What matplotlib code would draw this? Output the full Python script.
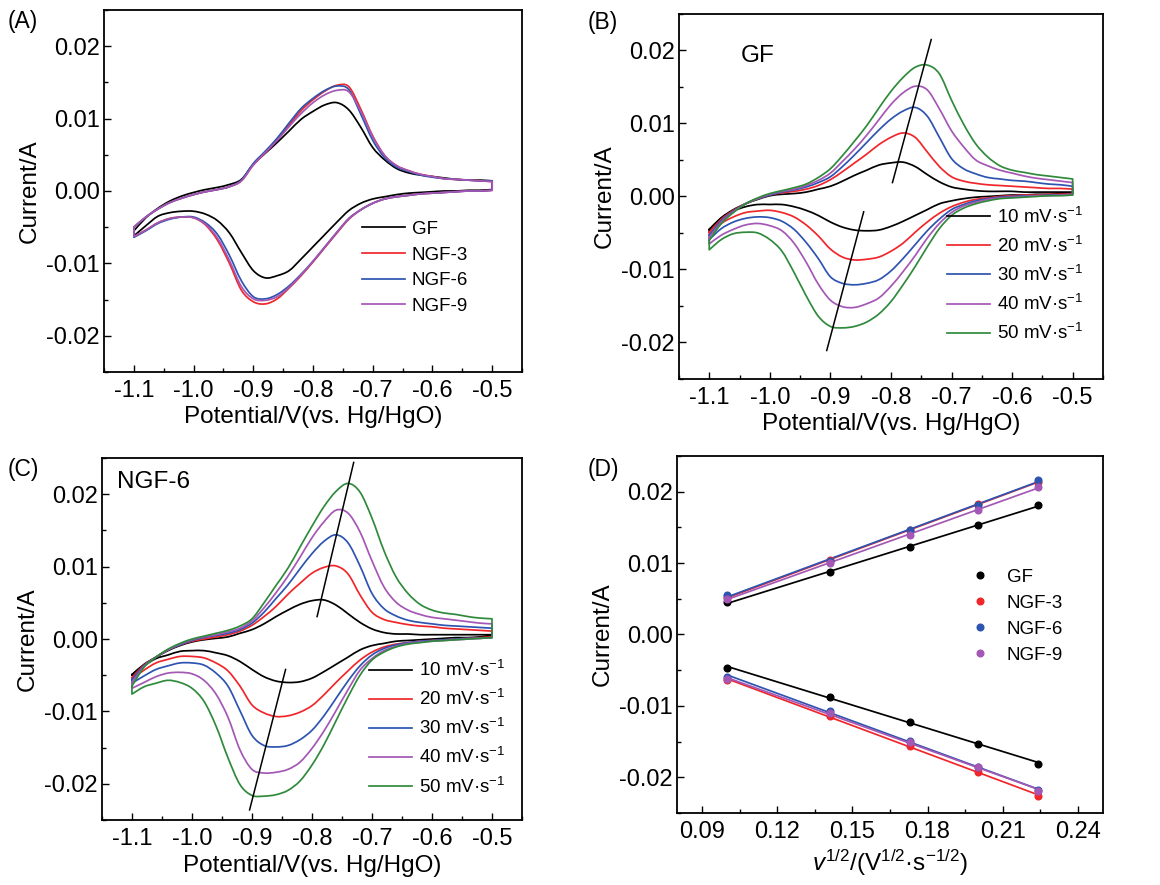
import numpy as np
import matplotlib
matplotlib.use("Agg")
import matplotlib.pyplot as plt
from matplotlib.ticker import MultipleLocator, FormatStrFormatter
from matplotlib.path import Path
from matplotlib.patches import PathPatch

plt.rcParams['font.family'] = ['Liberation Sans', 'DejaVu Sans']
plt.rcParams['mathtext.fontset'] = 'custom'
plt.rcParams['mathtext.rm'] = 'Liberation Sans'
plt.rcParams['mathtext.it'] = 'Liberation Sans:italic'
plt.rcParams['mathtext.default'] = 'regular'
plt.rcParams['axes.unicode_minus'] = False

# ---------------- data ----------------
E_GRID = [-1.10, -1.08, -1.06, -1.04, -1.02, -1.00, -0.98, -0.96, -0.94, -0.92,
          -0.90, -0.88, -0.86, -0.84, -0.82, -0.80, -0.78, -0.76, -0.74, -0.72,
          -0.70, -0.68, -0.66, -0.64, -0.62, -0.60, -0.58, -0.56, -0.54, -0.52, -0.50]

# Panel A (30 mV/s): anodic (forward) and cathodic (reverse) branches, A
A_GF_up = [-0.0055, -0.0037, -0.0024, -0.0014, -0.0007, -0.0002, 0.0002, 0.0005, 0.0009, 0.0016,
           0.0037, 0.0052, 0.0067, 0.0083, 0.0099, 0.0110, 0.0119, 0.0122, 0.0112, 0.0088,
           0.0060, 0.0043, 0.0031, 0.0025, 0.0022, 0.0020, 0.0018, 0.0016, 0.0015, 0.0015, 0.0014]
A_GF_dn = [-0.0062, -0.0048, -0.0035, -0.0030, -0.0028, -0.0028, -0.0032, -0.0041, -0.0058, -0.0085,
           -0.0110, -0.0120, -0.0117, -0.0110, -0.0094, -0.0077, -0.0060, -0.0043, -0.0027, -0.0017,
           -0.0011, -0.0008, -0.0005, -0.0003, -0.0002, -0.0001, 0.0000, 0.0000, 0.0001, 0.0001, 0.0002]
A_N3_up = [-0.0050, -0.0036, -0.0025, -0.0016, -0.0010, -0.0005, -0.0001, 0.0002, 0.0006, 0.0014,
           0.0036, 0.0053, 0.0071, 0.0091, 0.0111, 0.0126, 0.0138, 0.0146, 0.0144, 0.0113,
           0.0076, 0.0049, 0.0035, 0.0028, 0.0023, 0.0020, 0.0017, 0.0016, 0.0015, 0.0014, 0.0013]
A_N3_dn = [-0.0063, -0.0054, -0.0044, -0.0038, -0.0036, -0.0037, -0.0047, -0.0068, -0.0100, -0.0137,
           -0.0153, -0.0156, -0.0149, -0.0134, -0.0117, -0.0098, -0.0078, -0.0058, -0.0039, -0.0026,
           -0.0017, -0.0011, -0.0008, -0.0006, -0.0004, -0.0003, -0.0002, -0.0001, 0.0000, 0.0000, 0.0001]
A_N6_up = [-0.0050, -0.0036, -0.0025, -0.0016, -0.0010, -0.0005, -0.0001, 0.0002, 0.0006, 0.0015,
           0.0038, 0.0055, 0.0073, 0.0094, 0.0114, 0.0128, 0.0139, 0.0145, 0.0140, 0.0106,
           0.0070, 0.0046, 0.0033, 0.0027, 0.0022, 0.0019, 0.0017, 0.0016, 0.0015, 0.0014, 0.0014]
A_N6_dn = [-0.0064, -0.0055, -0.0045, -0.0039, -0.0036, -0.0036, -0.0044, -0.0060, -0.0089, -0.0124,
           -0.0146, -0.0149, -0.0143, -0.0131, -0.0115, -0.0097, -0.0077, -0.0057, -0.0038, -0.0026,
           -0.0017, -0.0011, -0.0008, -0.0006, -0.0004, -0.0003, -0.0002, -0.0001, 0.0000, 0.0000, 0.0001]
A_N9_up = [-0.0050, -0.0036, -0.0025, -0.0016, -0.0010, -0.0005, -0.0001, 0.0002, 0.0006, 0.0014,
           0.0036, 0.0053, 0.0070, 0.0089, 0.0107, 0.0122, 0.0133, 0.0139, 0.0137, 0.0110,
           0.0075, 0.0049, 0.0035, 0.0028, 0.0023, 0.0020, 0.0017, 0.0016, 0.0015, 0.0014, 0.0013]
A_N9_dn = [-0.0063, -0.0054, -0.0044, -0.0038, -0.0036, -0.0037, -0.0046, -0.0065, -0.0096, -0.0132,
           -0.0149, -0.0151, -0.0146, -0.0133, -0.0116, -0.0097, -0.0077, -0.0057, -0.0038, -0.0026,
           -0.0017, -0.0011, -0.0008, -0.0006, -0.0004, -0.0003, -0.0002, -0.0001, 0.0000, 0.0000, 0.0001]

# Panel B (GF at 10-50 mV/s)
B10_up = [-0.0045, -0.0029, -0.0018, -0.0010, -0.0004, 0.0001, 0.0003, 0.0004, 0.0006, 0.0010,
          0.0014, 0.0021, 0.0029, 0.0036, 0.0043, 0.0046, 0.0047, 0.0041, 0.0030, 0.0020,
          0.0013, 0.0010, 0.0008, 0.0007, 0.0007, 0.0007, 0.0006, 0.0006, 0.0006, 0.0006, 0.0006]
B10_dn = [-0.0048, -0.0030, -0.0020, -0.0014, -0.0011, -0.0011, -0.0011, -0.0014, -0.0019, -0.0026,
          -0.0035, -0.0042, -0.0046, -0.0047, -0.0046, -0.0041, -0.0034, -0.0026, -0.0018, -0.0010,
          -0.0006, -0.0003, -0.0001, 0.0000, 0.0001, 0.0002, 0.0002, 0.0003, 0.0003, 0.0004, 0.0005]
B20_up = [-0.0049, -0.0031, -0.0019, -0.0010, -0.0003, 0.0002, 0.0005, 0.0007, 0.0010, 0.0015,
          0.0023, 0.0034, 0.0046, 0.0058, 0.0071, 0.0081, 0.0087, 0.0081, 0.0061, 0.0041,
          0.0027, 0.0021, 0.0018, 0.0016, 0.0015, 0.0014, 0.0013, 0.0012, 0.0011, 0.0011, 0.0010]
B20_dn = [-0.0053, -0.0037, -0.0028, -0.0022, -0.0020, -0.0019, -0.0022, -0.0028, -0.0039, -0.0054,
          -0.0072, -0.0083, -0.0087, -0.0086, -0.0083, -0.0075, -0.0064, -0.0049, -0.0035, -0.0023,
          -0.0014, -0.0008, -0.0004, -0.0002, 0.0000, 0.0001, 0.0002, 0.0002, 0.0003, 0.0003, 0.0004]
B30_up = [-0.0053, -0.0033, -0.0020, -0.0010, -0.0003, 0.0002, 0.0006, 0.0009, 0.0013, 0.0019,
          0.0027, 0.0041, 0.0057, 0.0074, 0.0091, 0.0106, 0.0117, 0.0122, 0.0110, 0.0081,
          0.0052, 0.0038, 0.0031, 0.0026, 0.0024, 0.0022, 0.0021, 0.0019, 0.0017, 0.0016, 0.0014]
B30_dn = [-0.0059, -0.0044, -0.0035, -0.0030, -0.0028, -0.0029, -0.0034, -0.0045, -0.0063, -0.0085,
          -0.0110, -0.0119, -0.0121, -0.0119, -0.0114, -0.0102, -0.0085, -0.0066, -0.0047, -0.0031,
          -0.0018, -0.0011, -0.0006, -0.0003, -0.0001, 0.0000, 0.0001, 0.0001, 0.0002, 0.0002, 0.0003]
B40_up = [-0.0056, -0.0035, -0.0021, -0.0010, -0.0003, 0.0003, 0.0007, 0.0010, 0.0015, 0.0022,
          0.0032, 0.0048, 0.0065, 0.0084, 0.0105, 0.0126, 0.0142, 0.0151, 0.0146, 0.0120,
          0.0090, 0.0068, 0.0050, 0.0042, 0.0036, 0.0032, 0.0028, 0.0025, 0.0023, 0.0021, 0.0019]
B40_dn = [-0.0065, -0.0053, -0.0045, -0.0039, -0.0037, -0.0040, -0.0047, -0.0064, -0.0090, -0.0120,
          -0.0142, -0.0151, -0.0152, -0.0147, -0.0139, -0.0123, -0.0103, -0.0081, -0.0057, -0.0037,
          -0.0022, -0.0013, -0.0008, -0.0004, -0.0002, -0.0001, 0.0000, 0.0001, 0.0001, 0.0002, 0.0002]
B50_up = [-0.0060, -0.0037, -0.0022, -0.0010, -0.0002, 0.0004, 0.0008, 0.0012, 0.0017, 0.0026,
          0.0038, 0.0056, 0.0076, 0.0097, 0.0121, 0.0144, 0.0163, 0.0177, 0.0180, 0.0168,
          0.0132, 0.0099, 0.0072, 0.0054, 0.0042, 0.0036, 0.0033, 0.0030, 0.0028, 0.0026, 0.0024]
B50_dn = [-0.0073, -0.0059, -0.0051, -0.0049, -0.0050, -0.0059, -0.0075, -0.0104, -0.0136, -0.0164,
          -0.0178, -0.0180, -0.0178, -0.0172, -0.0161, -0.0144, -0.0121, -0.0096, -0.0069, -0.0044,
          -0.0026, -0.0016, -0.0010, -0.0006, -0.0003, -0.0002, -0.0001, 0.0000, 0.0001, 0.0001, 0.0002]

# Panel C (NGF-6 at 10-50 mV/s)
C10_up = [-0.0049, -0.0035, -0.0025, -0.0016, -0.0009, -0.0004, -0.0001, 0.0001, 0.0003, 0.0008,
          0.0013, 0.0021, 0.0031, 0.0040, 0.0048, 0.0053, 0.0054, 0.0047, 0.0035, 0.0023,
          0.0014, 0.0009, 0.0007, 0.0007, 0.0006, 0.0006, 0.0006, 0.0006, 0.0006, 0.0006, 0.0006]
C10_dn = [-0.0050, -0.0037, -0.0027, -0.0022, -0.0017, -0.0016, -0.0016, -0.0019, -0.0023, -0.0031,
          -0.0042, -0.0052, -0.0058, -0.0060, -0.0059, -0.0054, -0.0045, -0.0035, -0.0025, -0.0015,
          -0.0009, -0.0006, -0.0003, -0.0002, -0.0001, 0.0000, 0.0001, 0.0002, 0.0002, 0.0003, 0.0004]
C20_up = [-0.0053, -0.0036, -0.0025, -0.0015, -0.0008, -0.0003, 0.0000, 0.0003, 0.0006, 0.0011,
          0.0019, 0.0031, 0.0045, 0.0062, 0.0077, 0.0091, 0.0099, 0.0101, 0.0090, 0.0061,
          0.0037, 0.0027, 0.0023, 0.0020, 0.0018, 0.0017, 0.0015, 0.0014, 0.0013, 0.0012, 0.0011]
C20_dn = [-0.0055, -0.0043, -0.0033, -0.0028, -0.0024, -0.0024, -0.0026, -0.0033, -0.0044, -0.0065,
          -0.0091, -0.0102, -0.0107, -0.0106, -0.0101, -0.0092, -0.0077, -0.0060, -0.0044, -0.0029,
          -0.0018, -0.0011, -0.0007, -0.0005, -0.0003, -0.0002, -0.0001, 0.0000, 0.0001, 0.0002, 0.0003]
C30_up = [-0.0056, -0.0037, -0.0025, -0.0015, -0.0008, -0.0002, 0.0002, 0.0005, 0.0008, 0.0013,
          0.0022, 0.0037, 0.0056, 0.0075, 0.0097, 0.0118, 0.0135, 0.0144, 0.0133, 0.0101,
          0.0063, 0.0042, 0.0032, 0.0026, 0.0023, 0.0021, 0.0019, 0.0018, 0.0017, 0.0016, 0.0015]
C30_dn = [-0.0061, -0.0051, -0.0042, -0.0037, -0.0033, -0.0033, -0.0036, -0.0047, -0.0065, -0.0099,
          -0.0133, -0.0147, -0.0149, -0.0147, -0.0139, -0.0126, -0.0106, -0.0082, -0.0058, -0.0037,
          -0.0022, -0.0013, -0.0008, -0.0005, -0.0003, -0.0002, -0.0001, 0.0000, 0.0001, 0.0001, 0.0002]
C40_up = [-0.0060, -0.0038, -0.0025, -0.0015, -0.0007, -0.0001, 0.0003, 0.0006, 0.0010, 0.0015,
          0.0025, 0.0043, 0.0064, 0.0087, 0.0113, 0.0140, 0.0162, 0.0178, 0.0174, 0.0148,
          0.0108, 0.0072, 0.0051, 0.0040, 0.0034, 0.0030, 0.0028, 0.0026, 0.0024, 0.0022, 0.0021]
C40_dn = [-0.0068, -0.0060, -0.0052, -0.0047, -0.0046, -0.0048, -0.0057, -0.0076, -0.0108, -0.0153,
          -0.0180, -0.0185, -0.0184, -0.0180, -0.0170, -0.0151, -0.0127, -0.0099, -0.0070, -0.0043,
          -0.0027, -0.0016, -0.0010, -0.0006, -0.0004, -0.0003, -0.0002, -0.0001, 0.0000, 0.0001, 0.0002]
C50_up = [-0.0065, -0.0039, -0.0025, -0.0014, -0.0006, 0.0000, 0.0004, 0.0008, 0.0012, 0.0018,
          0.0028, 0.0050, 0.0074, 0.0098, 0.0127, 0.0156, 0.0183, 0.0204, 0.0215, 0.0203,
          0.0167, 0.0122, 0.0086, 0.0063, 0.0048, 0.0040, 0.0036, 0.0034, 0.0031, 0.0029, 0.0028]
C50_dn = [-0.0076, -0.0066, -0.0061, -0.0057, -0.0060, -0.0068, -0.0086, -0.0120, -0.0164, -0.0201,
          -0.0216, -0.0217, -0.0215, -0.0209, -0.0196, -0.0174, -0.0146, -0.0113, -0.0080, -0.0050,
          -0.0029, -0.0018, -0.0011, -0.0007, -0.0005, -0.0003, -0.0002, -0.0001, 0.0000, 0.0001, 0.0002]

# Peak-shift guide lines (potential, current)
B_GUIDE_UP_E = [-0.7975, -0.7335]
B_GUIDE_UP_I = [0.0019, 0.0215]
B_GUIDE_DN_E = [-0.845, -0.906]
B_GUIDE_DN_I = [-0.0021, -0.0211]
C_GUIDE_UP_E = [-0.7915, -0.7305]
C_GUIDE_UP_I = [0.0031, 0.0244]
C_GUIDE_DN_E = [-0.844, -0.904]
C_GUIDE_DN_I = [-0.0042, -0.0236]

# Panel D: peak currents vs square root of scan rate
SQRT_V = [0.100, 0.141, 0.173, 0.200, 0.224]
D_GF_pa = [0.0045, 0.0087, 0.0122, 0.0153, 0.0181]
D_GF_pc = [-0.0047, -0.0087, -0.0122, -0.0153, -0.0181]
D_N3_pa = [0.0052, 0.0104, 0.0146, 0.0183, 0.0213]
D_N3_pc = [-0.0064, -0.0114, -0.0156, -0.0193, -0.0226]
D_N6_pa = [0.0055, 0.0103, 0.0146, 0.0182, 0.0216]
D_N6_pc = [-0.0059, -0.0107, -0.0149, -0.0186, -0.0218]
D_N9_pa = [0.0050, 0.0100, 0.0139, 0.0175, 0.0206]
D_N9_pc = [-0.0063, -0.0110, -0.0150, -0.0186, -0.0219]

SAMPLES = ['GF', 'NGF-3', 'NGF-6', 'NGF-9']
RATES = ['10 mV·s$^{-1}$', '20 mV·s$^{-1}$', '30 mV·s$^{-1}$',
         '40 mV·s$^{-1}$', '50 mV·s$^{-1}$']

# ---------------- style ----------------
BLACK = '#000000'
RED = '#f0262a'
BLUE = '#2d54b0'
PURPLE = '#a457b4'
GREEN = '#2f8a3c'
SAMPLE_COLORS = [BLACK, RED, BLUE, PURPLE]
RATE_COLORS = [BLACK, RED, BLUE, PURPLE, GREEN]

TICK_FS = 17
LABEL_FS = 17.5
LEG_FS = 13.5
LW = 1.25

fig = plt.figure(figsize=(11.6, 8.85), dpi=100)
axA = fig.add_axes([0.0897, 0.5797, 0.3603, 0.4090])
axB = fig.add_axes([0.5853, 0.5718, 0.3655, 0.4124])
axC = fig.add_axes([0.0879, 0.0734, 0.3621, 0.4090])
axD = fig.add_axes([0.5836, 0.0814, 0.3672, 0.4034])


def style(ax, cv=True):
    for s in ax.spines.values():
        s.set_linewidth(1.3)
    ax.set_ylim(-0.025, 0.025)
    ax.yaxis.set_major_locator(MultipleLocator(0.01))
    ax.yaxis.set_minor_locator(MultipleLocator(0.005))
    ax.yaxis.set_major_formatter(FormatStrFormatter('%.2f'))
    if cv:
        ax.set_xlim(-1.15, -0.45)
        ax.xaxis.set_major_locator(MultipleLocator(0.1))
        ax.xaxis.set_minor_locator(MultipleLocator(0.05))
        ax.xaxis.set_major_formatter(FormatStrFormatter('%.1f'))
        ax.set_xlabel('Potential/V(vs. Hg/HgO)', fontsize=LABEL_FS, labelpad=3)
    ax.tick_params(which='both', direction='in', top=False, right=False,
                   labelsize=TICK_FS, width=1.0)
    ax.tick_params(which='major', length=5)
    ax.tick_params(which='minor', length=3)
    ax.tick_params(axis='x', pad=6)
    ax.tick_params(axis='y', pad=3)
    ax.set_ylabel('Current/A', fontsize=LABEL_FS, labelpad=4)


def smooth_verts(px, py):
    """Cubic Bezier (Catmull-Rom) segments passing through the data points."""
    n = len(px)
    verts = []
    for i in range(n - 1):
        x0, y0 = (px[i - 1], py[i - 1]) if i > 0 else (px[i], py[i])
        x1, y1 = px[i], py[i]
        x2, y2 = px[i + 1], py[i + 1]
        x3, y3 = (px[i + 2], py[i + 2]) if i + 2 < n else (x2, y2)
        verts += [(x1 + (x2 - x0) / 6.0, y1 + (y2 - y0) / 6.0),
                  (x2 - (x3 - x1) / 6.0, y2 - (y3 - y1) / 6.0),
                  (x2, y2)]
    return verts


def draw_cv(ax, up, dn, color, label):
    E = list(E_GRID)
    up = list(up)
    dn_rev = list(dn)[::-1]
    E_rev = E[::-1]
    verts = [(E[0], up[0])]
    codes = [Path.MOVETO]
    seg = smooth_verts(E, up)
    verts += seg
    codes += [Path.CURVE4] * len(seg)
    verts.append((E_rev[0], dn_rev[0]))
    codes.append(Path.LINETO)
    seg = smooth_verts(E_rev, dn_rev)
    verts += seg
    codes += [Path.CURVE4] * len(seg)
    verts.append((E[0], up[0]))
    codes.append(Path.LINETO)
    ax.add_patch(PathPatch(Path(verts, codes), fill=False, edgecolor=color,
                           lw=LW, joinstyle='round', capstyle='round'))
    ax.plot([], [], color=color, lw=LW, label=label)


LEG_KW = dict(loc='upper left', frameon=False, fontsize=LEG_FS, handlelength=2.3,
              handletextpad=0.35, borderpad=0, borderaxespad=0)

# Panel A
for up, dn, c, lab in zip([A_GF_up, A_N3_up, A_N6_up, A_N9_up],
                          [A_GF_dn, A_N3_dn, A_N6_dn, A_N9_dn],
                          SAMPLE_COLORS, SAMPLES):
    draw_cv(axA, up, dn, c, lab)
style(axA)
axA.legend(bbox_to_anchor=(0.617, 0.418), labelspacing=0.46, **LEG_KW)

# Panel B
for up, dn, c, lab in zip([B10_up, B20_up, B30_up, B40_up, B50_up],
                          [B10_dn, B20_dn, B30_dn, B40_dn, B50_dn],
                          RATE_COLORS, RATES):
    draw_cv(axB, up, dn, c, lab)
axB.plot(B_GUIDE_UP_E, B_GUIDE_UP_I, color=BLACK, lw=1.1)
axB.plot(B_GUIDE_DN_E, B_GUIDE_DN_I, color=BLACK, lw=1.1)
style(axB)
axB.text(-1.048, 0.0192, 'GF', fontsize=LABEL_FS, ha='left', va='center')
axB.legend(bbox_to_anchor=(0.632, 0.472), labelspacing=0.48, **LEG_KW)

# Panel C
for up, dn, c, lab in zip([C10_up, C20_up, C30_up, C40_up, C50_up],
                          [C10_dn, C20_dn, C30_dn, C40_dn, C50_dn],
                          RATE_COLORS, RATES):
    draw_cv(axC, up, dn, c, lab)
axC.plot(C_GUIDE_UP_E, C_GUIDE_UP_I, color=BLACK, lw=1.1)
axC.plot(C_GUIDE_DN_E, C_GUIDE_DN_I, color=BLACK, lw=1.1)
style(axC)
axC.text(-1.125, 0.0217, 'NGF-6', fontsize=LABEL_FS, ha='left', va='center')
axC.legend(bbox_to_anchor=(0.636, 0.442), labelspacing=0.48, **LEG_KW)

# Panel D
xs = np.array(SQRT_V)
handles = []
for pa, pc, c in zip([D_GF_pa, D_N3_pa, D_N6_pa, D_N9_pa],
                     [D_GF_pc, D_N3_pc, D_N6_pc, D_N9_pc],
                     SAMPLE_COLORS):
    for series in (pa, pc):
        k, b = np.polyfit(xs, np.array(series), 1)
        axD.plot([xs[0], xs[-1]], [k * xs[0] + b, k * xs[-1] + b], color=c, lw=LW)
for pa, pc, c, lab in zip([D_GF_pa, D_N3_pa, D_N6_pa, D_N9_pa],
                          [D_GF_pc, D_N3_pc, D_N6_pc, D_N9_pc],
                          SAMPLE_COLORS, SAMPLES):
    h, = axD.plot(xs, pa, 'o', color=c, ms=4.8, ls='none', label=lab)
    axD.plot(xs, pc, 'o', color=c, ms=4.8, ls='none')
    handles.append(h)
style(axD, cv=False)
axD.set_xlim(0.08, 0.25)
axD.xaxis.set_major_locator(MultipleLocator(0.03))
axD.xaxis.set_minor_locator(MultipleLocator(0.015))
axD.xaxis.set_major_formatter(FormatStrFormatter('%.2f'))
axD.set_xlabel(r'$\mathit{v}^{1/2}$/(V$^{1/2}$·s$^{-1/2}$)', fontsize=LABEL_FS, labelpad=3)
axD.legend(handles=handles, loc='upper left', bbox_to_anchor=(0.69, 0.685),
           frameon=False, fontsize=LEG_FS, handlelength=1.0, handletextpad=0.9,
           labelspacing=0.48, borderpad=0, borderaxespad=0)

# Panel letters
for lab, x, y in [('(A)', 0.0069, 0.9757), ('(B)', 0.507, 0.9746),
                  ('(C)', 0.0069, 0.4700), ('(D)', 0.507, 0.4690)]:
    fig.text(x, y, lab, fontsize=16.5, ha='left', va='center')

fig.savefig('out.png', dpi=100)
